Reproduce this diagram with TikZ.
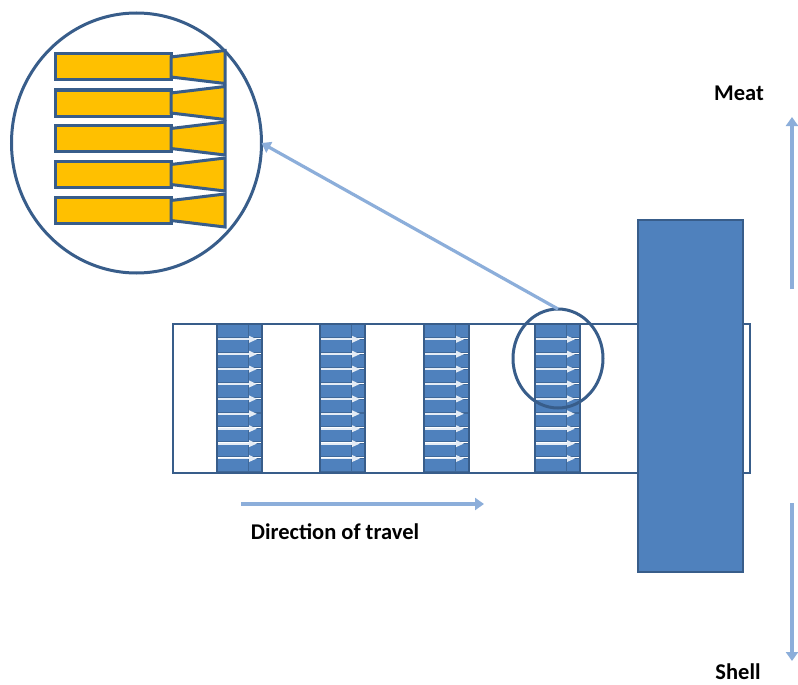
\documentclass[tikz,border=0pt]{standalone}
\usepackage{fontspec}
\setsansfont{Carlito}
\usetikzlibrary{shapes.geometric,arrows.meta}
\definecolor{fillblue}{HTML}{4F81BD}
\definecolor{edgeblue}{HTML}{385D8A}
\definecolor{lineblue}{HTML}{8CAEDA}
\definecolor{bladeyellow}{HTML}{FFC000}
\begin{document}
\begin{tikzpicture}[x=1pt,y=-1pt]
	\tikzstyle{body box}=[rectangle,draw=edgeblue,line width=2.2pt,inner sep=0,outer sep=0]
	\tikzstyle{stem box}=[rectangle,draw=edgeblue!70!fillblue,fill=fillblue,line width=1pt,inner sep=0,outer sep=0,minimum width=31pt,minimum height=13pt]
	\tikzstyle{yellow box}=[rectangle,draw=edgeblue,fill=bladeyellow,line width=3pt,inner sep=0,outer sep=0,minimum width=116pt,minimum height=26pt]
	\tikzstyle{ring}=[ellipse,draw=edgeblue,line width=3pt,inner sep=0,outer sep=0]
	\tikzset{
		flare/.style={draw=edgeblue!70!fillblue,fill=fillblue,line width=1pt},
		yellow flare/.style={draw=edgeblue,fill=bladeyellow,line width=3pt,line join=miter},
		pointer/.style={draw=lineblue,line width=3.2pt,-{Triangle[length=9pt,width=12pt]}},
		inner arrow/.style={draw=white!85!fillblue,line width=1.8pt,-{Triangle[length=8pt,width=6.5pt]}},
		caption/.style={font=\sffamily\bfseries\fontsize{22.5}{22.5}\selectfont,inner sep=0}
	}
	\useasboundingbox (0,0) rectangle (798,685);
	\fill[white] (0,0) rectangle (798,685);
	% rod and head
	\node(rod)[body box,fill=white,minimum width=577pt,minimum height=149pt] at (461.5,398.5){};
	% four rows of vanes
	\foreach \sx/\name in {217/a,320/b,424/c,535/d}{
		\foreach \row in {0,...,9}{
			\node(\name\row)[stem box] at (\sx+15.5,331+14.9*\row){};
			\draw[flare] (\sx+31,324.5+14.9*\row)--(\sx+45,324.5+14.9*\row)--(\sx+45,337.5+14.9*\row)--(\sx+31,337.5+14.9*\row)--cycle;
		}
		\foreach \row in {0,...,8}{
			\draw[inner arrow] (\sx+1,339.3+14.9*\row)--(\sx+40,339.3+14.9*\row);
		}
		\draw[edgeblue,line width=2.2pt] (\sx,324)rectangle(\sx+45,473);
	}
	\node(head)[body box,fill=fillblue,minimum width=105pt,minimum height=352pt] at (690.5,396){};
	% enlarged view
	\node(zoomed)[ring,fill=white,minimum width=250pt,minimum height=260pt] at (136.5,143){};
	\foreach \row/\ty in {0/67,1/103,2/138.5,3/174.5,4/210.5}{
		\node(blade\row)[yellow box] at (113,\ty){};
		\draw[yellow flare] (171,\ty-10)--(225,\ty-16.5)--(225,\ty+16.5)--(171,\ty+10)--cycle;
	}
	\node(lens)[ring,minimum width=90pt,minimum height=99pt] at (558,358.5){};
	\draw[pointer] (lens.north)--(zoomed.east);
	% labels and direction arrows
	\node(meat)[caption] at (739,93){Meat};
	\node(shell)[caption] at (738,672){Shell};
	\node(travel)[caption] at (335,532){Direction of travel};
	\coordinate(meat start) at (792,289);
	\coordinate(meat end) at (792,117);
	\coordinate(shell start) at (792,503);
	\coordinate(shell end) at (792,661);
	\coordinate(travel start) at (241,504);
	\coordinate(travel end) at (484,504);
	\draw[pointer] (meat start)--(meat end);
	\draw[pointer] (shell start)--(shell end);
	\draw[pointer] (travel start)--(travel end);
\end{tikzpicture}
\end{document}
